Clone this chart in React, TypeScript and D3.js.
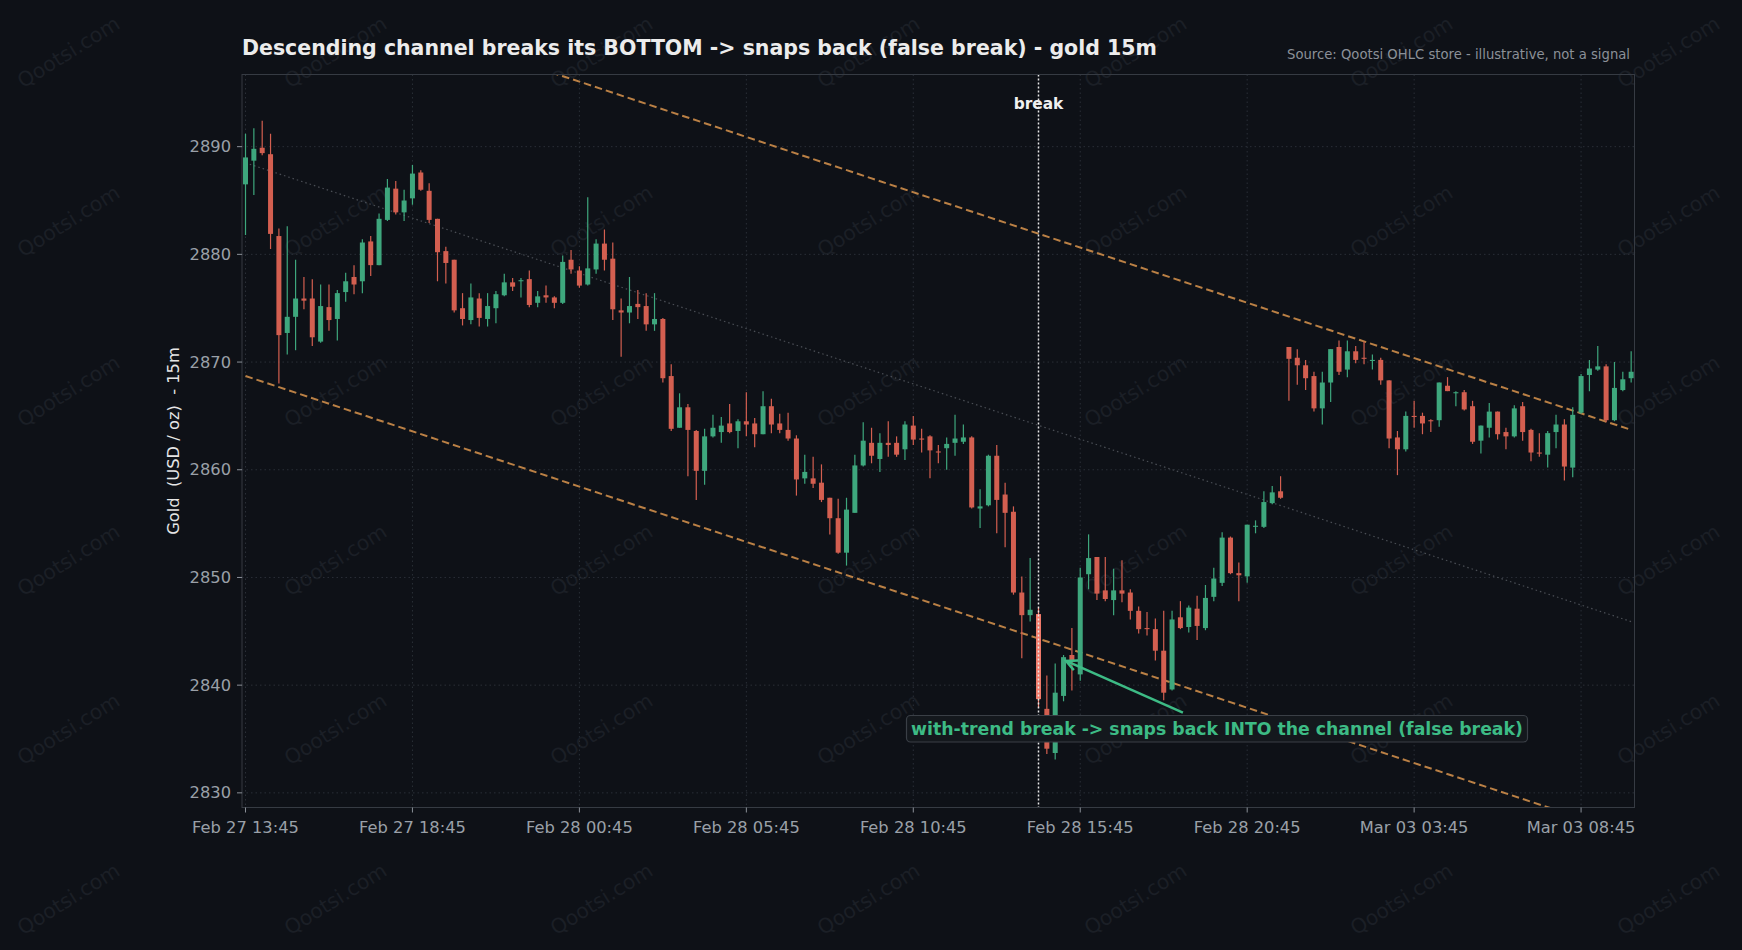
import React from "react";
import * as d3 from "d3";

// ---- data ----
const opens = [2886.5,2888.7,2889.9,2889.3,2881.7,2872.7,2874.2,2875.9,2875.9,2871.9,2875.1,2874.0,2876.5,2877.9,2877.5,2881.2,2879.0,2883.2,2886.1,2883.9,
2885.2,2887.6,2885.9,2883.3,2880.3,2879.5,2875.0,2873.9,2875.9,2874.0,2875.0,2876.2,2877.4,2877.5,2877.7,2875.5,2876.2,2876.0,2875.5,2879.5,
2878.5,2877.2,2878.6,2881.0,2879.6,2874.8,2874.6,2875.4,2875.2,2873.5,2874.0,2868.7,2863.9,2865.8,2863.6,2859.9,2863.1,2863.5,2864.3,2863.6,
2864.5,2864.3,2863.3,2865.9,2864.3,2863.7,2862.9,2859.2,2859.2,2858.8,2857.4,2855.5,2852.3,2856.0,2860.4,2862.5,2861.0,2862.5,2862.5,2861.9,
2864.1,2862.9,2863.1,2861.7,2862.0,2862.5,2862.6,2863.0,2856.4,2856.7,2861.3,2857.7,2856.1,2848.6,2846.5,2846.6,2837.8,2833.7,2839.0,2842.8,
2841.0,2850.3,2851.9,2848.8,2847.9,2848.8,2848.6,2846.9,2845.3,2845.2,2843.2,2839.6,2846.3,2845.4,2847.1,2845.3,2848.2,2849.5,2853.7,2850.4,
2850.1,2854.7,2854.7,2856.9,2858.0,2871.4,2870.4,2869.7,2868.7,2865.7,2868.1,2871.4,2869.3,2871.0,2870.4,2870.1,2870.2,2868.3,2863.0,2861.9,
2865.0,2865.0,2864.6,2864.6,2867.8,2867.1,2867.2,2865.9,2862.7,2863.9,2865.4,2863.5,2863.1,2865.9,2863.7,2861.6,2861.4,2863.5,2864.2,2860.2,
2865.3,2868.8,2869.3,2869.6,2864.6,2867.4,2868.5];
const highs = [2891.2,2891.7,2892.4,2891.2,2882.4,2882.6,2879.5,2877.9,2877.7,2877.2,2877.2,2876.7,2878.3,2879.0,2881.4,2881.7,2883.8,2887.0,2886.8,2886.0,
2888.3,2887.8,2886.6,2883.3,2880.7,2879.5,2876.4,2877.3,2876.4,2876.4,2876.6,2878.2,2877.8,2877.8,2878.5,2876.6,2877.1,2876.1,2879.9,2880.4,
2878.9,2885.3,2881.4,2882.3,2881.1,2875.9,2877.9,2876.7,2876.4,2876.4,2874.1,2869.8,2867.1,2866.1,2863.7,2863.8,2865.1,2864.9,2866.1,2864.7,
2867.2,2864.8,2867.3,2866.6,2865.2,2865.3,2863.2,2861.4,2861.2,2860.5,2857.4,2857.3,2857.4,2861.4,2864.4,2863.9,2863.4,2864.5,2863.1,2864.5,
2865.0,2863.8,2863.2,2862.3,2863.0,2865.1,2864.2,2863.1,2858.2,2861.4,2862.3,2858.8,2856.6,2850.1,2851.8,2847.2,2840.9,2842.0,2842.8,2845.3,
2850.9,2854.0,2851.9,2851.9,2850.8,2851.6,2848.9,2847.3,2846.8,2846.2,2846.9,2846.9,2847.8,2847.4,2848.3,2849.3,2850.9,2854.2,2853.8,2851.4,
2854.9,2855.3,2858.0,2858.5,2859.4,2871.4,2871.2,2870.2,2869.1,2869.1,2871.2,2872.0,2872.0,2871.5,2871.9,2870.7,2870.4,2868.3,2863.6,2865.4,
2866.4,2865.3,2864.7,2868.1,2868.6,2867.3,2867.4,2866.4,2864.1,2866.2,2865.4,2863.9,2866.0,2866.3,2863.8,2863.4,2863.6,2865.1,2864.7,2865.8,
2868.9,2870.2,2871.5,2869.8,2870.0,2869.1,2871.0];
const lows = [2881.8,2885.5,2889.2,2880.5,2868.0,2870.7,2871.1,2874.9,2871.5,2871.8,2872.9,2872.0,2875.6,2876.3,2876.4,2878.0,2879.0,2883.1,2883.7,2883.1,
2884.6,2885.9,2882.9,2877.5,2877.3,2874.6,2873.4,2873.5,2873.3,2873.3,2873.6,2876.1,2876.6,2876.0,2875.1,2875.1,2875.5,2875.0,2875.4,2878.2,
2876.9,2877.1,2878.2,2878.5,2873.9,2870.5,2873.6,2874.0,2872.9,2872.9,2868.1,2863.6,2863.9,2859.4,2857.2,2858.6,2863.0,2862.5,2863.4,2862.0,
2863.1,2862.1,2863.3,2863.4,2863.4,2862.7,2857.6,2858.7,2858.3,2857.0,2854.0,2852.2,2851.1,2856.0,2860.3,2860.6,2859.8,2861.2,2861.2,2860.9,
2862.3,2861.6,2859.2,2860.6,2860.0,2861.3,2862.4,2856.4,2854.6,2856.6,2854.1,2852.8,2848.4,2842.5,2845.9,2837.9,2833.6,2833.1,2838.5,2839.5,
2840.4,2848.9,2847.9,2847.8,2846.5,2847.7,2846.1,2844.8,2844.6,2842.3,2838.6,2839.5,2845.2,2844.9,2844.2,2845.1,2847.8,2849.2,2850.3,2847.8,
2849.5,2854.1,2854.6,2856.8,2857.3,2866.4,2867.9,2867.4,2865.4,2864.2,2866.3,2868.8,2868.6,2869.9,2869.8,2869.3,2867.9,2862.0,2859.5,2861.7,
2863.9,2863.3,2863.5,2864.0,2867.3,2865.9,2865.5,2862.4,2861.5,2863.0,2862.8,2861.9,2863.0,2862.7,2860.8,2861.2,2860.2,2862.0,2859.0,2859.3,
2865.2,2867.3,2869.2,2864.4,2864.5,2867.3,2868.1];
const closes = [2889.0,2889.8,2889.4,2881.9,2872.5,2874.2,2875.9,2875.7,2872.3,2875.2,2873.9,2876.4,2877.5,2877.2,2881.1,2879.0,2883.3,2886.2,2883.9,2885.0,
2887.5,2886.0,2883.2,2880.2,2879.2,2874.8,2874.0,2876.0,2874.1,2875.2,2876.3,2877.4,2877.0,2877.6,2875.3,2876.1,2876.0,2875.5,2879.3,2878.6,
2877.1,2878.7,2881.0,2879.5,2874.9,2874.6,2875.2,2875.1,2873.5,2874.0,2868.5,2863.8,2865.8,2863.7,2859.9,2863.1,2863.9,2864.1,2863.5,2864.5,
2864.2,2863.3,2865.9,2864.2,2863.7,2862.9,2859.1,2859.8,2858.7,2857.2,2855.5,2852.3,2856.3,2860.4,2862.7,2861.3,2862.5,2862.3,2861.4,2864.2,
2862.8,2862.8,2861.8,2861.6,2862.4,2862.9,2863.0,2856.5,2856.6,2861.3,2857.2,2856.0,2848.6,2846.5,2847.0,2838.7,2834.1,2839.3,2842.6,2842.2,
2850.0,2851.8,2848.5,2848.0,2848.8,2848.5,2846.9,2845.2,2845.2,2843.2,2839.3,2846.1,2845.3,2847.2,2845.5,2848.1,2849.9,2853.7,2850.4,2850.2,
2854.9,2854.8,2857.0,2857.9,2857.4,2870.3,2869.7,2868.5,2865.7,2868.1,2871.2,2869.1,2871.0,2870.2,2870.3,2870.2,2868.3,2862.9,2861.9,2865.0,
2864.9,2864.3,2864.5,2868.1,2867.3,2867.2,2865.6,2862.6,2864.1,2865.4,2863.3,2863.1,2865.7,2863.5,2861.6,2861.5,2863.4,2864.2,2860.3,2865.1,
2868.7,2869.4,2869.6,2864.6,2867.6,2868.4,2869.1];

const tickIndex = [0, 20, 40, 60, 80, 100, 120, 140, 160];
const tickLabels = ["Feb 27 13:45","Feb 27 18:45","Feb 28 00:45","Feb 28 05:45","Feb 28 10:45","Feb 28 15:45","Feb 28 20:45","Mar 03 03:45","Mar 03 08:45"];
const yTicks = [2830, 2840, 2850, 2860, 2870, 2880, 2890];

// channel lines as [index, price] end points
const upperLine: [number, number][] = [[0, 2906.3], [166, 2863.7]];
const lowerLine: [number, number][] = [[0, 2868.7], [166, 2826.1]];
const midLine: [number, number][] = [[0, 2888.5], [166, 2845.9]];
const breakIndex = 95;
const arrowTip: [number, number] = [98.3, 2842.25];
const arrowTail: [number, number] = [112.3, 2837.45];

const BG = "#0e1117";
const UP = "#3ea77d";
const DOWN = "#d35f50";
const ORANGE = "#ba8045";
const FONT = "DejaVu Sans, sans-serif";

export default function App() {
  const W = 1742, H = 950;
  const L = 242, R = 1634.5, T = 74.5, B = 807.5;
  const x = d3.scaleLinear().domain([-0.42, 166.4]).range([L, R]);
  const y = d3.scaleLinear().domain([2828.64, 2896.7]).range([B, T]);
  const line = d3.line<[number, number]>().x(d => x(d[0])).y(d => y(d[1]));
  const bw = 5;

  const wm: { cx: number; cy: number }[] = [];
  const cols = [69, 336, 602, 869, 1136, 1402, 1669];
  const rows = [53, 222, 392, 561, 730, 900];
  cols.forEach(cx => rows.forEach(cy => wm.push({ cx, cy })));

  // arrow geometry
  const tx = x(arrowTip[0]), ty = y(arrowTip[1]);
  const sx = x(arrowTail[0]), sy = y(arrowTail[1]);
  const ang = Math.atan2(sy - ty, sx - tx);
  const hl = 12, ha = 0.45;
  const h1 = [tx + hl * Math.cos(ang + ha), ty + hl * Math.sin(ang + ha)];
  const h2 = [tx + hl * Math.cos(ang - ha), ty + hl * Math.sin(ang - ha)];

  return (
    <div style={{ position: "fixed", left: 0, top: 0, width: W, height: H, background: BG }}>
      <svg width={W} height={H} style={{ display: "block" }} fontFamily={FONT}>
        <rect width={W} height={H} fill={BG} />
        {/* watermarks */}
        {wm.map((p, i) => (
          <text key={i} x={p.cx} y={p.cy} transform={`rotate(-32 ${p.cx} ${p.cy})`} textAnchor="middle"
            dominantBaseline="middle" fontSize={20.5} fill="#1b1f26">Qootsi.com</text>
        ))}
        <defs>
          <clipPath id="plot"><rect x={L} y={T} width={R - L} height={B - T} /></clipPath>
        </defs>
        {/* grid */}
        {yTicks.map(v => (
          <line key={"gy" + v} x1={L} x2={R} y1={y(v)} y2={y(v)} stroke="#2a2f37" strokeWidth={1} strokeDasharray="1.5,3" />
        ))}
        {tickIndex.map(i => (
          <line key={"gx" + i} x1={x(i)} x2={x(i)} y1={T} y2={B} stroke="#2a2f37" strokeWidth={1} strokeDasharray="1.5,3" />
        ))}
        <g clipPath="url(#plot)">
          <path d={line(midLine) || ""} stroke="#4a4e55" strokeWidth={1.2} strokeDasharray="1.5,3" fill="none" />
          <path d={line(upperLine) || ""} stroke={ORANGE} strokeWidth={2} strokeDasharray="7.5,4" fill="none" />
          <path d={line(lowerLine) || ""} stroke={ORANGE} strokeWidth={2} strokeDasharray="7.5,4" fill="none" />
          {opens.map((o, i) => {
            const c = closes[i];
            const col = i === breakIndex ? "#f07a6a" : c >= o ? UP : DOWN;
            const top = y(Math.max(o, c)), bot = y(Math.min(o, c));
            return (
              <g key={i}>
                <line x1={x(i)} x2={x(i)} y1={y(highs[i])} y2={y(lows[i])} stroke={col} strokeWidth={1.2} />
                <rect x={x(i) - bw / 2} y={top} width={bw} height={Math.max(bot - top, 1)} fill={col} />
              </g>
            );
          })}
          <line x1={x(breakIndex)} x2={x(breakIndex)} y1={T} y2={B} stroke="#e8e8e8" strokeWidth={1.5} strokeDasharray="2,2" />
        </g>
        <text x={x(breakIndex)} y={109} textAnchor="middle" fontSize={15.4} fontWeight="bold" fill="#f0f0f0">break</text>
        {/* arrow */}
        <line x1={sx} y1={sy} x2={tx} y2={ty} stroke="#3dbb85" strokeWidth={2.5} />
        <polyline points={`${h1[0]},${h1[1]} ${tx},${ty} ${h2[0]},${h2[1]}`} stroke="#3dbb85" strokeWidth={2.5} fill="none" />
        {/* annotation box */}
        <rect x={906.5} y={715.5} width={621} height={26.5} rx={4} fill="#14181d" stroke="#3a3f46" strokeWidth={1.2} />
        <text x={1217} y={735} textAnchor="middle" fontSize={17.3} fontWeight="bold" fill="#3dbb85">with-trend break -&gt; snaps back INTO the channel (false break)</text>
        {/* axes frame */}
        <rect x={L} y={T} width={R - L} height={B - T} fill="none" stroke="#363b43" strokeWidth={1} />
        {yTicks.map(v => (
          <g key={"yt" + v}>
            <line x1={L - 5} x2={L} y1={y(v)} y2={y(v)} stroke="#8b9098" />
            <text x={L - 11} y={y(v)} textAnchor="end" dominantBaseline="central" fontSize={16.3} fill="#9aa0a8">{v}</text>
          </g>
        ))}
        {tickIndex.map((i, k) => (
          <g key={"xt" + i}>
            <line x1={x(i)} x2={x(i)} y1={B} y2={B + 5} stroke="#8b9098" />
            <text x={x(i)} y={833} textAnchor="middle" fontSize={16.3} fill="#9aa0a8">{tickLabels[k]}</text>
          </g>
        ))}
        <text transform={`translate(179,441) rotate(-90)`} textAnchor="middle" fontSize={16.3} fill="#e6e6e6"
          style={{ whiteSpace: "pre" }} xmlSpace="preserve">Gold  (USD / oz)  - 15m</text>
        <text x={242} y={55} fontSize={20.5} fontWeight="bold" fill="#ececec">Descending channel breaks its BOTTOM -&gt; snaps back (false break) - gold 15m</text>
        <text x={1630} y={59} textAnchor="end" fontSize={13.2} fill="#8b9098">Source: Qootsi OHLC store - illustrative, not a signal</text>
      </svg>
    </div>
  );
}
